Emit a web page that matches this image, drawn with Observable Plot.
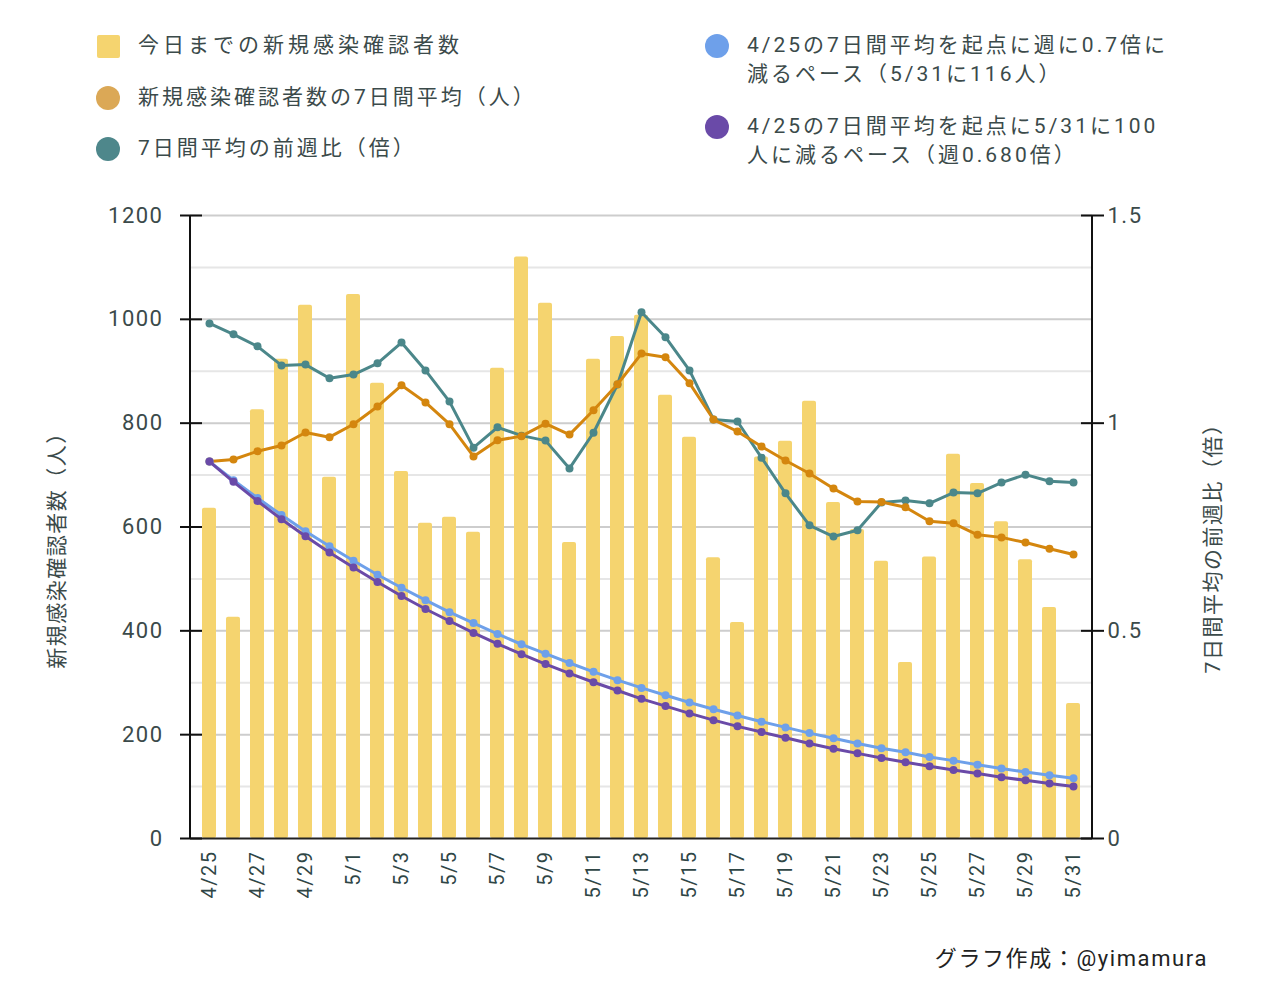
<!DOCTYPE html>
<html>
<head>
<meta charset="utf-8">
<script src="https://cdn.jsdelivr.net/npm/d3@7"></script>
<script src="https://cdn.jsdelivr.net/npm/@observablehq/plot@0.6"></script>
<style>
  body { margin: 0; background: #fff; }
  #wrap { position: relative; width: 1280px; height: 986px; font-family: Roboto, "Noto Sans CJK JP", sans-serif; color: #3b4a4a; }
  .sw { position: absolute; width: 24px; height: 24px; border-radius: 12px; }
  .lt { position: absolute; font-size: 21px; letter-spacing: 3px; line-height: 29px; white-space: nowrap; }
  #chart { position: absolute; left: 0; top: 185px; }
  #caption { position: absolute; right: 72px; top: 945px; font-size: 22px; line-height: 28px; color: #222; letter-spacing: 1.6px; }
</style>
</head>
<body>
<div id="wrap">
  <div class="sw" style="left:97px;top:35px;width:23px;height:23px;border-radius:2px;background:#f5d46f"></div>
  <div class="lt" style="left:138px;top:31px;letter-spacing:4px">今日までの新規感染確認者数</div>
  <div class="sw" style="left:96px;top:86px;background:#dba856"></div>
  <div class="lt" style="left:138px;top:83px">新規感染確認者数の7日間平均（人）</div>
  <div class="sw" style="left:96px;top:137px;background:#4e878b"></div>
  <div class="lt" style="left:138px;top:134px">7日間平均の前週比（倍）</div>
  <div class="sw" style="left:705px;top:34px;background:#6ea0ea"></div>
  <div class="lt" style="left:747px;top:31px">4/25の7日間平均を起点に週に0.7倍に<br>減るペース（5/31に116人）</div>
  <div class="sw" style="left:705px;top:115px;background:#6a4aa8"></div>
  <div class="lt" style="left:747px;top:112px">4/25の7日間平均を起点に5/31に100<br>人に減るペース（週0.680倍）</div>
  <div id="chart"></div>
  <div id="caption">グラフ作成：@yimamura</div>
</div>
<script>
const dates = ["4/25","4/26","4/27","4/28","4/29","4/30",
  "5/1","5/2","5/3","5/4","5/5","5/6","5/7","5/8","5/9","5/10",
  "5/11","5/12","5/13","5/14","5/15","5/16","5/17","5/18","5/19","5/20",
  "5/21","5/22","5/23","5/24","5/25","5/26","5/27","5/28","5/29","5/30","5/31"];
const newCases = [636,426,826,923,1027,696,
  1048,877,707,607,619,590,906,1120,1031,570,
  923,967,1008,854,773,541,416,735,765,842,
  647,595,534,339,542,740,684,610,537,445,260];
const avg7 = [726,730,746,757,782,773,
  798,832,873,840,798,736,767,775,799,778,
  825,875,934,927,877,807,784,755,728,703,
  674,649,648,638,611,607,585,580,570,558,547];
const weekRatio = [1.240,1.214,1.185,1.139,1.141,1.108,
  1.117,1.144,1.194,1.127,1.052,0.941,0.990,0.970,0.958,0.891,
  0.977,1.093,1.267,1.207,1.127,1.009,1.004,0.917,0.831,0.754,
  0.727,0.742,0.809,0.814,0.807,0.833,0.831,0.857,0.876,0.860,0.857];
const pace07 = [726,690,656,623,592,563,535,508,483,459,436,415,394,374,356,338,321,305,290,
  276,262,249,237,225,214,203,193,183,174,166,157,150,142,135,128,122,116];
const pace100 = [726,687,650,615,582,551,522,494,467,442,419,396,375,355,336,318,301,285,269,
  255,241,228,216,205,194,183,173,164,155,147,139,132,125,118,112,106,100];
const xTickLabels = ["4/25","4/27","4/29","5/1","5/3","5/5","5/7","5/9","5/11","5/13",
  "5/15","5/17","5/19","5/21","5/23","5/25","5/27","5/29","5/31"];
const leftTicks = [0,200,400,600,800,1000,1200];
const leftMinor = [100,300,500,700,900,1100];
const rightTicks = [0,0.5,1,1.5];
const rightTickLabels = ["0","0.5","1","1.5"];
const leftTitle = "新規感染確認者数（人）";
const rightTitle = "7日間平均の前週比（倍）";

const LEFT_MAX = 1200, RIGHT_MAX = 1.5, K = LEFT_MAX / RIGHT_MAX;
const rows = dates.map((d, i) => ({
  date: d, cases: newCases[i], avg: avg7[i], ratio: weekRatio[i] * K,
  p07: pace07[i], p100: pace100[i]
}));

function axisLines(index, scales, values, dimensions) {
  const {width, height, marginLeft, marginRight, marginTop, marginBottom} = dimensions;
  const g = d3.create("svg:g").attr("stroke", "#111").attr("stroke-width", 2);
  for (const x of [marginLeft, width - marginRight]) {
    g.append("line").attr("x1", x).attr("x2", x).attr("y1", marginTop).attr("y2", height - marginBottom);
  }
  return g.node();
}

const chart = Plot.plot({
  width: 1280, height: 730,
  marginLeft: 190, marginRight: 188, marginTop: 30, marginBottom: 77,
  style: { fontFamily: 'Roboto, "Noto Sans CJK JP", sans-serif', fontSize: "21px", color: "#3b4a4a", background: "#fff", letterSpacing: "1.5px" },
  x: { type: "band", domain: dates, paddingInner: 0.42, paddingOuter: 0.35, axis: null },
  y: { domain: [0, LEFT_MAX], axis: null },
  marks: [
    Plot.ruleY(leftMinor, { stroke: "#e6e6e6", strokeWidth: 2 }),
    Plot.ruleY(leftTicks.slice(1), { stroke: "#cdcdcd", strokeWidth: 2 }),
    Plot.barY(rows, { x: "date", y: "cases", fill: "#f5d46f", rx: 2 }),
    Plot.ruleY([0], { stroke: "#222", strokeWidth: 2 }),
    Plot.axisY({ anchor: "left", ticks: leftTicks, tickFormat: d => String(d), tickSize: 0, tickPadding: 27, fontSize: 22, label: null, fill: "#3b4a4a" }),
    Plot.axisY({ anchor: "left", ticks: leftTicks, tickSize: 22, dx: 12, tickFormat: () => "", label: null, stroke: "#111", strokeWidth: 2 }),
    Plot.axisY({ anchor: "right", ticks: rightTicks.map(v => v * K), tickFormat: (d) => rightTickLabels[rightTicks.indexOf(d / K)], tickSize: 0, tickPadding: 15, fontSize: 22, label: null, fill: "#3b4a4a" }),
    Plot.axisY({ anchor: "right", ticks: rightTicks.map(v => v * K), tickSize: 23, dx: -12, tickFormat: () => "", label: null, stroke: "#111", strokeWidth: 2 }),
    Plot.axisX({ ticks: xTickLabels, tickRotate: -90, tickSize: 0, tickPadding: 12, fontSize: 20, label: null, fill: "#2f4646" }),
    Plot.text([leftTitle], { text: d => d, frameAnchor: "left", textAnchor: "middle", dx: -133, dy: 18, rotate: -90, fontSize: 21, fill: "#3b4a4a" }),
    Plot.text([rightTitle], { text: d => d, frameAnchor: "right", textAnchor: "middle", dx: 121, dy: 16, rotate: -90, fontSize: 21, fill: "#3b4a4a" }),
    Plot.line(rows, { x: "date", y: "ratio", stroke: "#4b878a", strokeWidth: 3 }),
    Plot.dot(rows, { x: "date", y: "ratio", fill: "#4b878a", r: 4 }),
    Plot.line(rows, { x: "date", y: "avg", stroke: "#d4860e", strokeWidth: 3 }),
    Plot.dot(rows, { x: "date", y: "avg", fill: "#d4860e", r: 4 }),
    Plot.line(rows, { x: "date", y: "p07", stroke: "#6ea0ea", strokeWidth: 3 }),
    Plot.dot(rows, { x: "date", y: "p07", fill: "#6ea0ea", r: 4 }),
    Plot.line(rows, { x: "date", y: "p100", stroke: "#6a4aa8", strokeWidth: 3 }),
    Plot.dot(rows, { x: "date", y: "p100", fill: "#6a4aa8", r: 4 }),
    axisLines
  ]
});
document.getElementById("chart").appendChild(chart);
</script>
</body>
</html>
